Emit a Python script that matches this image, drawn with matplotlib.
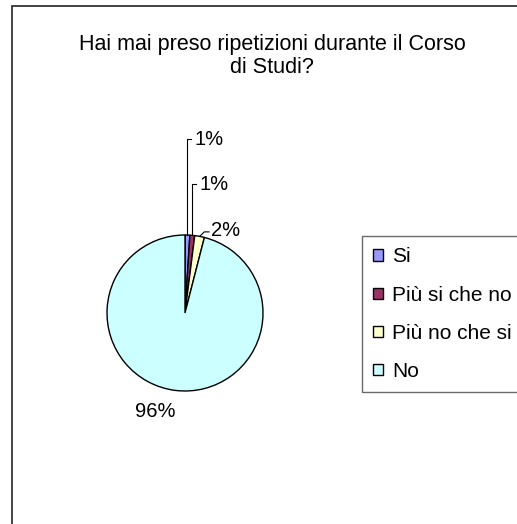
import matplotlib.pyplot as plt
from matplotlib.patches import Rectangle
import numpy as np

plt.rcParams['font.family'] = ['Liberation Sans', 'DejaVu Sans']

title = 'Hai mai preso ripetizioni durante il Corso\ndi Studi?'
labels = ['Si', 'Più si che no', 'Più no che si', 'No']
values = [1, 1, 2, 96]
colors = ['#9999FF', '#993366', '#FFFFCC', '#CCFFFF']

W, H = 517, 524
fs = 14.5
fig = plt.figure(figsize=(W / 100, H / 100), dpi=100)

# chart border (right and bottom edges fall outside the picture)
fig.add_artist(Rectangle((12 / W, -0.1), 1.2, 1 - 6 / H + 0.1,
                         transform=fig.transFigure, fill=False,
                         edgecolor='#222222', linewidth=1.2))

# pie axes: 78 px per data unit, pie centre at (185, 313) px
ppu = 78
cx, cy = 185, 313
x0, x1, y0, y1 = -1.5, 1.5, -1.5, 2.5
ax = fig.add_axes([(cx + x0 * ppu) / W, 1 - (cy - y0 * ppu) / H,
                   (x1 - x0) * ppu / W, (y1 - y0) * ppu / H])
wedges, _ = ax.pie(values, colors=colors, startangle=90, counterclock=False,
                   radius=1, wedgeprops=dict(edgecolor='black', linewidth=1))
ax.set_xlim(x0, x1)
ax.set_ylim(y0, y1)
ax.set_aspect('equal')
ax.axis('off')

# data labels with leader lines
pct = [f'{v}%' for v in values]
label_y = [2.23, 1.65, 1.06]
cum = np.cumsum([0] + values)
for i in range(3):
    mid = np.deg2rad(90 - (cum[i] + cum[i + 1]) / 2 * 3.6)
    sx, sy = np.cos(mid), np.sin(mid)
    if i < 2:
        ax.plot([sx, sx, sx + 0.05], [sy, label_y[i], label_y[i]],
                color='black', lw=0.8)
        ax.text(sx + 0.09, label_y[i], pct[i], ha='left', va='center',
                fontsize=fs)
    else:
        ax.plot([sx, sx + 0.06, sx + 0.12], [sy, label_y[i] - 0.02, label_y[i] - 0.02],
                color='black', lw=0.8)
        ax.text(sx + 0.14, label_y[i], pct[i], ha='left', va='center',
                fontsize=fs)
ax.text(-0.385, -1.26, pct[3], ha='center', va='center', fontsize=fs)

fig.text(272 / W, 1 - 56 / H, title, ha='center', va='center', fontsize=15.5,
         linespacing=1.18)

handles = [Rectangle((0, 0), 1, 1, facecolor=c, edgecolor='black', lw=1)
           for c in colors]
leg = fig.legend(handles, labels, loc='upper left',
                 bbox_to_anchor=(362 / W, 1 - 236 / H), fontsize=15,
                 frameon=True, fancybox=False, edgecolor='#444444',
                 handlelength=0.45, handleheight=0.45, handletextpad=0.45,
                 labelspacing=0.92, borderpad=0.55, borderaxespad=0)
leg.get_frame().set_linewidth(1)

fig.savefig('out.png', dpi=100)
